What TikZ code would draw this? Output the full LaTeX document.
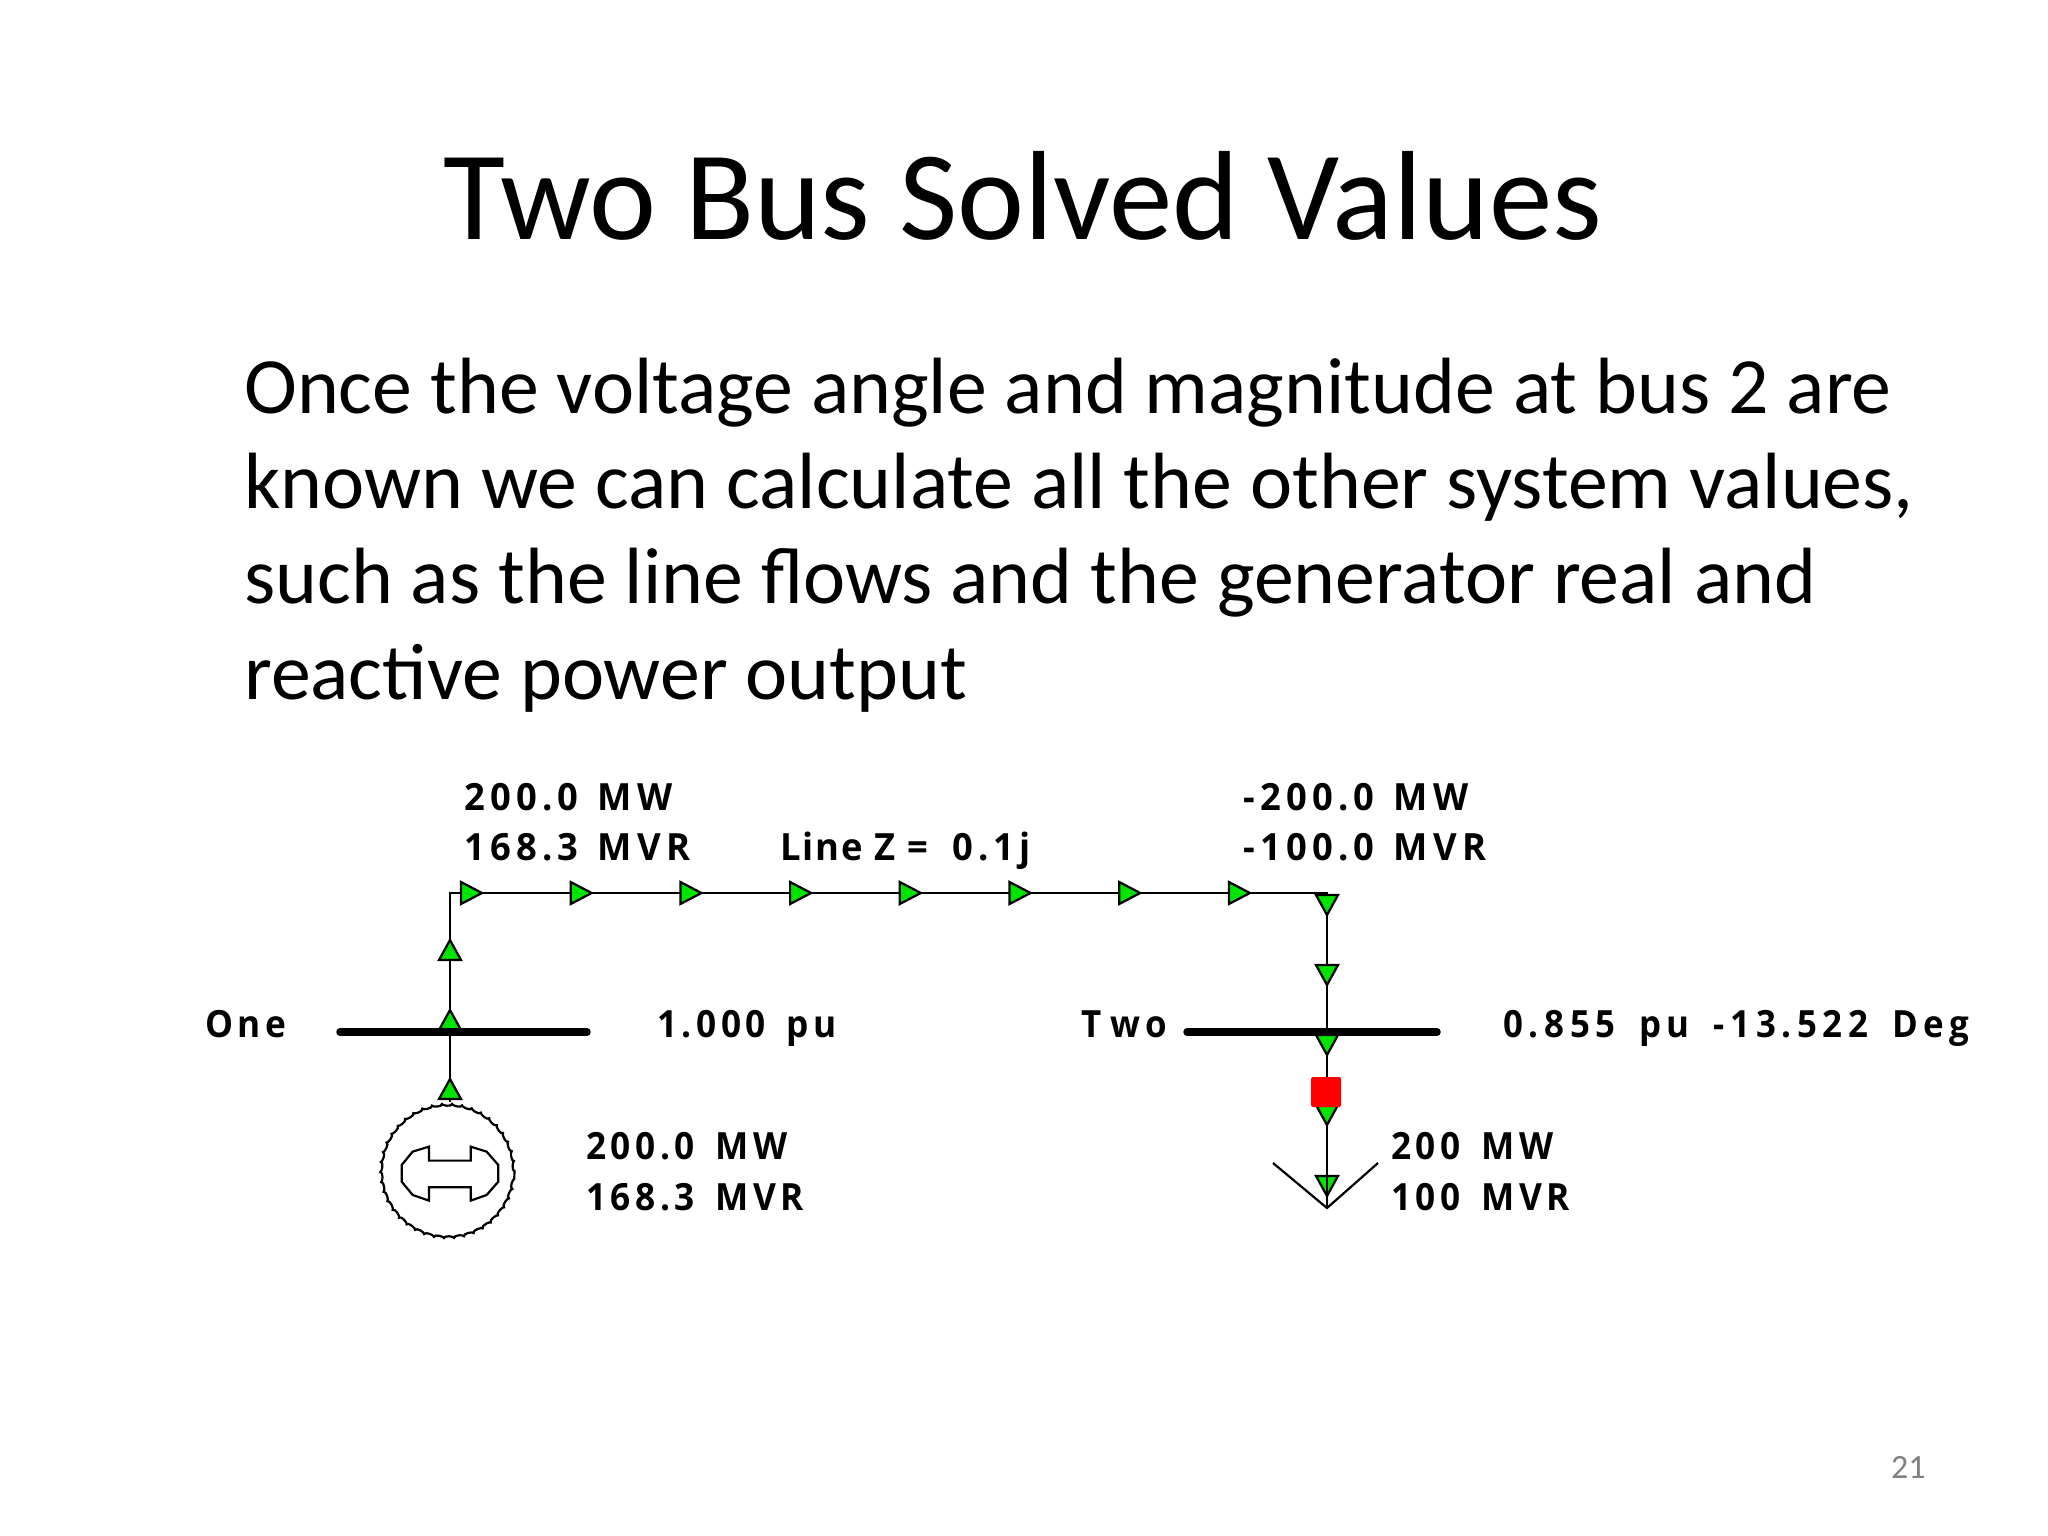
\documentclass[tikz,border=0pt]{standalone}
\usepackage{fontspec}
\setmainfont{Carlito}
\newfontfamily\widefont[LetterSpace=15.2,WordSpace=1.6,FakeStretch=.93]{Open Sans}
\newfontfamily\lowfont[LetterSpace=12.2,WordSpace=1.5,FakeStretch=.94]{Open Sans}
\newfontfamily\upfont[LetterSpace=14,WordSpace=1.3,FakeStretch=.97]{Open Sans}
\newfontfamily\tightfont[LetterSpace=5.5,WordSpace=1.0,FakeStretch=.97]{Open Sans}
\usetikzlibrary{decorations.pathmorphing}
\definecolor{flowgreen}{HTML}{00E400}
\newcommand{\flowup}[2]{\draw[flowtri] (#1-11,#2+20) -- (#1+11,#2+20) -- (#1,#2) -- cycle;}
\newcommand{\flowdown}[2]{\draw[flowtri] (#1-11,#2) -- (#1+11,#2) -- (#1,#2+20) -- cycle;}
\newcommand{\flowright}[2]{\draw[flowtri] (#1,#2-11) -- (#1,#2+11) -- (#1+21,#2) -- cycle;}
\tikzset{
  flowtri/.style={draw=black,fill=flowgreen,line width=2.2pt,line join=miter},
  wire/.style={line width=2.2pt},
  busbar/.style={line width=7.5pt,line cap=round},
  title/.style={anchor=base,inner sep=0pt,font=\fontsize{126.9}{127}\selectfont},
  bodytext/.style={anchor=base west,inner sep=0pt,font=\fontsize{79.8}{80}\selectfont},
  diag/.style={anchor=base west,inner sep=0pt,font=\bfseries\fontsize{37.5}{37.5}\selectfont},
  gensym/.style={draw,circle,line width=2.2pt,minimum size=133pt,inner sep=0pt,decorate,decoration={bumps,segment length=20pt,amplitude=1.4pt}},
}
\begin{document}
\begin{tikzpicture}[x=1pt,y=-1pt]
\useasboundingbox (0,0) rectangle (2048,1536);
\node[title] (ttl) at (1023,239) {Two Bus Solved Values};
\node[bodytext] (l1) at (244,413) {Once the voltage angle and magnitude at bus 2 are};
\node[bodytext] (l2) at (244,508) {known we can calculate all the other system values,};
\node[bodytext] (l3) at (244,603) {such as the line flows and the generator real and};
\node[bodytext] (l4) at (244,699) {reactive power output};
% named points
\coordinate (b1l) at (340,1032); \coordinate (b1r) at (587,1032);
\coordinate (b2l) at (1187,1032); \coordinate (b2r) at (1437,1032);
\coordinate (c1) at (450,893); \coordinate (c2) at (1327,893);
\coordinate (genTop) at (450,1102);
\coordinate (sw) at (1326,1092);
\coordinate (ldTip) at (1327,1208);
\coordinate (ldL) at (1273,1163); \coordinate (ldR) at (1378,1163);
\coordinate (ldIn) at (1327,1130);
% wires
\draw[wire] (genTop) -- (c1) -- (c2) -- (ldTip);
\draw[wire] (ldL) -- (ldTip) -- (ldR);
% generator
\node[gensym] (gen) at (447.5,1171) {};
\begin{scope}[shift={(340,860)},x=.3333pt,y=-.3333pt]
\draw[line width=2.2pt] (267,860) -- (267,902) -- (392,902) -- (392,860) -- (440,875) -- (475,915) -- (475,965) -- (440,1005) -- (392,1022) -- (392,982) -- (267,982) -- (267,1022) -- (218,1005) -- (185,965) -- (185,915) -- (218,875) -- cycle;
\end{scope}
% flow arrows
\flowup{450}{940}\flowup{450}{1010}\flowup{450}{1079}
\foreach \i in {0,...,7}{\pgfmathsetmacro{\xx}{461+109.7*\i}\flowright{\xx}{893}}
\flowdown{1327}{895}\flowdown{1327}{965}\flowdown{1327}{1035}\flowdown{1327}{1105}\flowdown{1327}{1176}
\draw[wire] (ldIn) -- (ldTip);
% buses
\draw[busbar] (b1l) -- (b1r);
\draw[busbar] (b2l) -- (b2r);
% breaker
\node[fill=red,rounded corners=1.5pt,minimum size=30pt,inner sep=0pt] (brk) at (sw) {};
% labels
\node[diag] (t1) at (464,810) {\upfont 200.0 MW};
\node[diag] (t2) at (464,860) {\upfont 168.3 MVR};
\node[diag] (t3) at (780,860) {{\tightfont Line Z =}\hspace{24pt}{\upfont 0.1j}};
\node[diag] (t4) at (1243,810) {\upfont -200.0 MW};
\node[diag] (t5) at (1243,860) {\upfont -100.0 MVR};
\node[diag] (t6) at (205,1037) {\lowfont One};
\node[diag] (t7) at (657,1037) {\lowfont 1.000 pu};
\node[diag] (t8) at (1081,1037) {\widefont T\kern9pt wo};
\node[diag] (t9) at (1503,1037) {\widefont 0.855 pu -13.522 Deg};
\node[diag] (t10) at (586,1159) {\lowfont 200.0 MW};
\node[diag] (t11) at (586,1210) {\lowfont 168.3 MVR};
\node[diag] (t12) at (1391,1159) {\lowfont 200 MW};
\node[diag] (t13) at (1391,1210) {\lowfont 100 MVR};
\node[anchor=base west,inner sep=0pt,text=black!50,font=\fontsize{34}{34}\selectfont] (num) at (1891,1478) {21};
\end{tikzpicture}
\end{document}
